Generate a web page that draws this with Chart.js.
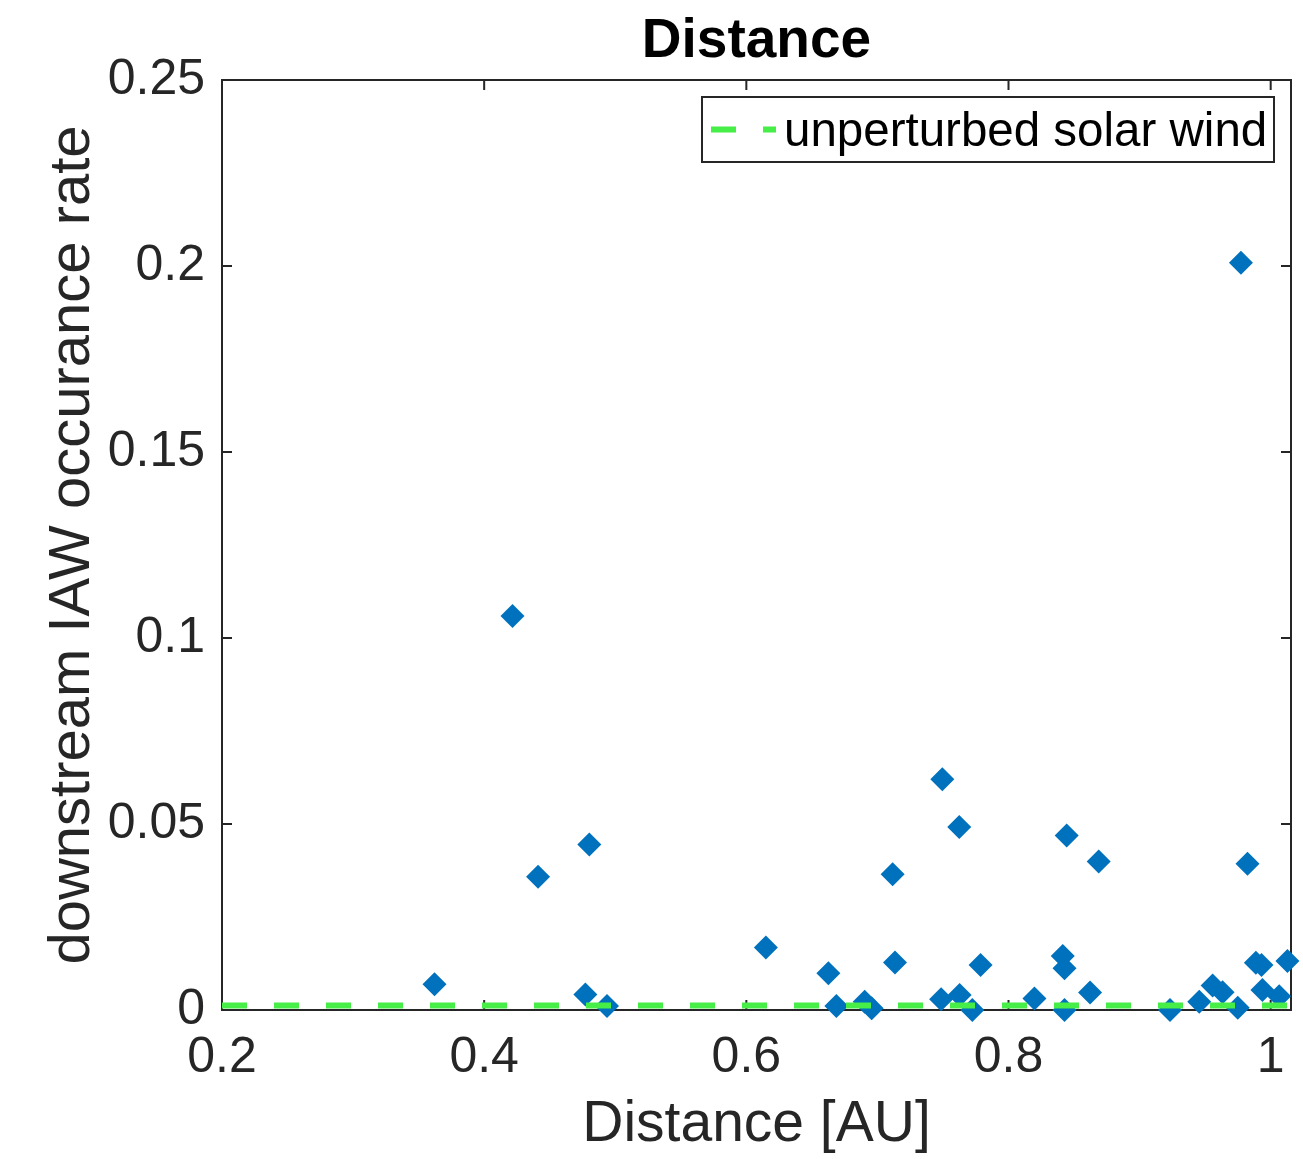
<!DOCTYPE html>
<html>
<head>
<meta charset="utf-8">
<script src="https://cdn.jsdelivr.net/npm/chart.js@4.4.1/dist/chart.umd.min.js"></script>
<style>
  html, body { margin: 0; padding: 0; background: #fff; }
</style>
</head>
<body>
<canvas id="chart" width="1303" height="1159"></canvas>
<script>
// Scatter of downstream IAW occurrence rate vs heliocentric distance,
// with the unperturbed solar wind level as a dashed reference line.

const distanceAU = [
  0.3621, 0.4216, 0.4411, 0.4772, 0.4802, 0.4937,
  0.6149, 0.6626, 0.6687, 0.6903, 0.6956, 0.7116, 0.7134,
  0.7486, 0.7495, 0.7624, 0.7627, 0.7724, 0.7787,
  0.8198, 0.8414, 0.8427, 0.8427, 0.8444, 0.8622, 0.8688,
  0.9232, 0.9455, 0.9557, 0.9633, 0.9749, 0.9773, 0.9823,
  0.9887, 0.9930, 0.9937, 1.0065, 1.0128,
];
const occurrenceRate = [
  0.0069, 0.1059, 0.0358, 0.0042, 0.0445, 0.0011,
  0.0168, 0.0099, 0.0011, 0.0022, 0.0005, 0.0365, 0.0128,
  0.0029, 0.0620, 0.0492, 0.0040, 0.0000, 0.0121,
  0.0031, 0.0145, 0.0112, 0.0000, 0.0469, 0.0047, 0.0399,
  0.0000, 0.0022, 0.0066, 0.0048, 0.0006, 0.2009, 0.0393,
  0.0127, 0.0121, 0.0054, 0.0037, 0.0132,
];

// unperturbed solar wind level, spanning the x range
const swDistance = [0.2, 1.0155];
const swRate = [0.0012, 0.0012];

const xTicks = [0.2, 0.4, 0.6, 0.8, 1.0];
const yTicks = [0, 0.05, 0.1, 0.15, 0.2, 0.25];

const LEGEND_LABEL = "unperturbed solar wind";
const AXIS_COLOR = "#262626";
const BLUE = "#0072BD";
const GREEN = "#47EE47";
const FONT = "'Liberation Sans', Helvetica, Arial, sans-serif";

function fmt(v) {
  return String(Math.round(v * 1000) / 1000);
}

// ---- Plugins -------------------------------------------------------------

// MATLAB-style box with inward ticks on all four sides
const axesBox = {
  id: "axesBox",
  beforeDatasetsDraw(chart) {
    const { ctx, chartArea: a, scales } = chart;
    const tick = 10;
    ctx.save();
    ctx.strokeStyle = AXIS_COLOR;
    ctx.lineWidth = 2;
    ctx.strokeRect(a.left, a.top, a.right - a.left, a.bottom - a.top);
    ctx.beginPath();
    xTicks.forEach((v) => {
      const px = scales.x.getPixelForValue(v);
      ctx.moveTo(px, a.bottom);
      ctx.lineTo(px, a.bottom - tick);
      ctx.moveTo(px, a.top);
      ctx.lineTo(px, a.top + tick);
    });
    yTicks.forEach((v) => {
      const py = scales.y.getPixelForValue(v);
      ctx.moveTo(a.left, py);
      ctx.lineTo(a.left + tick, py);
      ctx.moveTo(a.right, py);
      ctx.lineTo(a.right - tick, py);
    });
    ctx.stroke();
    ctx.restore();
  },
};

// boxed legend in the top-right corner of the axes
const insideLegend = {
  id: "insideLegend",
  afterDraw(chart) {
    const { ctx, chartArea: a } = chart;
    const w = 572;
    const h = 65;
    const x0 = a.right - 17 - w;
    const y0 = a.top + 17;
    const midY = y0 + h / 2;
    ctx.save();
    ctx.fillStyle = "#fff";
    ctx.fillRect(x0, y0, w, h);
    ctx.strokeStyle = AXIS_COLOR;
    ctx.lineWidth = 2;
    ctx.strokeRect(x0, y0, w, h);

    ctx.strokeStyle = GREEN;
    ctx.lineWidth = 6;
    ctx.setLineDash([25, 27]);
    ctx.beginPath();
    ctx.moveTo(x0 + 9, midY);
    ctx.lineTo(x0 + 74, midY);
    ctx.stroke();
    ctx.setLineDash([]);

    ctx.fillStyle = "#000";
    ctx.font = `47.5px ${FONT}`;
    ctx.textBaseline = "middle";
    ctx.textAlign = "left";
    ctx.fillText(LEGEND_LABEL, x0 + 82, midY + 3);
    ctx.restore();
  },
};

// ---- Chart ---------------------------------------------------------------

new Chart(document.getElementById("chart"), {
  type: "scatter",
  data: {
    datasets: [
      {
        type: "line",
        label: LEGEND_LABEL,
        data: swDistance.map((x, i) => ({ x, y: swRate[i] })),
        borderColor: GREEN,
        borderWidth: 6,
        borderDash: [25, 27],
        pointRadius: 0,
        fill: false,
        order: 0,
      },
      {
        label: "events",
        data: distanceAU.map((x, i) => ({ x, y: occurrenceRate[i] })),
        pointStyle: "rectRot",
        pointRadius: 12,
        pointBackgroundColor: BLUE,
        pointBorderWidth: 0,
        clip: false,
        order: 1,
      },
    ],
  },
  options: {
    responsive: false,
    animation: false,
    layout: { padding: { right: 11, left: 0, top: 0, bottom: 0 } },
    plugins: {
      legend: { display: false },
      tooltip: { enabled: false },
      title: {
        display: true,
        fullSize: false,
        text: "Distance",
        color: "#000",
        font: { family: FONT, size: 55, weight: "bold" },
        padding: { top: 9, bottom: 5 },
      },
    },
    scales: {
      x: {
        type: "linear",
        min: 0.2,
        max: 1.0155,
        afterBuildTicks: (s) => { s.ticks = xTicks.map((v) => ({ value: v })); },
        afterFit: (s) => { s.height = 149; },
        grid: { display: false, drawTicks: false },
        border: { display: false },
        ticks: {
          color: AXIS_COLOR,
          font: { family: FONT, size: 50 },
          padding: 18,
          maxRotation: 0,
          callback: (v) => fmt(v),
        },
        title: {
          display: true,
          text: "Distance [AU]",
          color: AXIS_COLOR,
          font: { family: FONT, size: 57 },
          padding: { top: 0, bottom: 0 },
        },
      },
      y: {
        type: "linear",
        min: 0,
        max: 0.25,
        afterBuildTicks: (s) => { s.ticks = yTicks.map((v) => ({ value: v })); },
        afterFit: (s) => { s.width = 222; },
        grid: { display: false, drawTicks: false },
        border: { display: false },
        ticks: {
          color: AXIS_COLOR,
          font: { family: FONT, size: 50 },
          padding: 17,
          callback: (v) => fmt(v),
        },
        title: {
          display: true,
          text: "downstream IAW occurance rate",
          color: AXIS_COLOR,
          font: { family: FONT, size: 58 },
          padding: { top: 38, bottom: 0 },
        },
      },
    },
  },
  plugins: [axesBox, insideLegend],
});
</script>
</body>
</html>
